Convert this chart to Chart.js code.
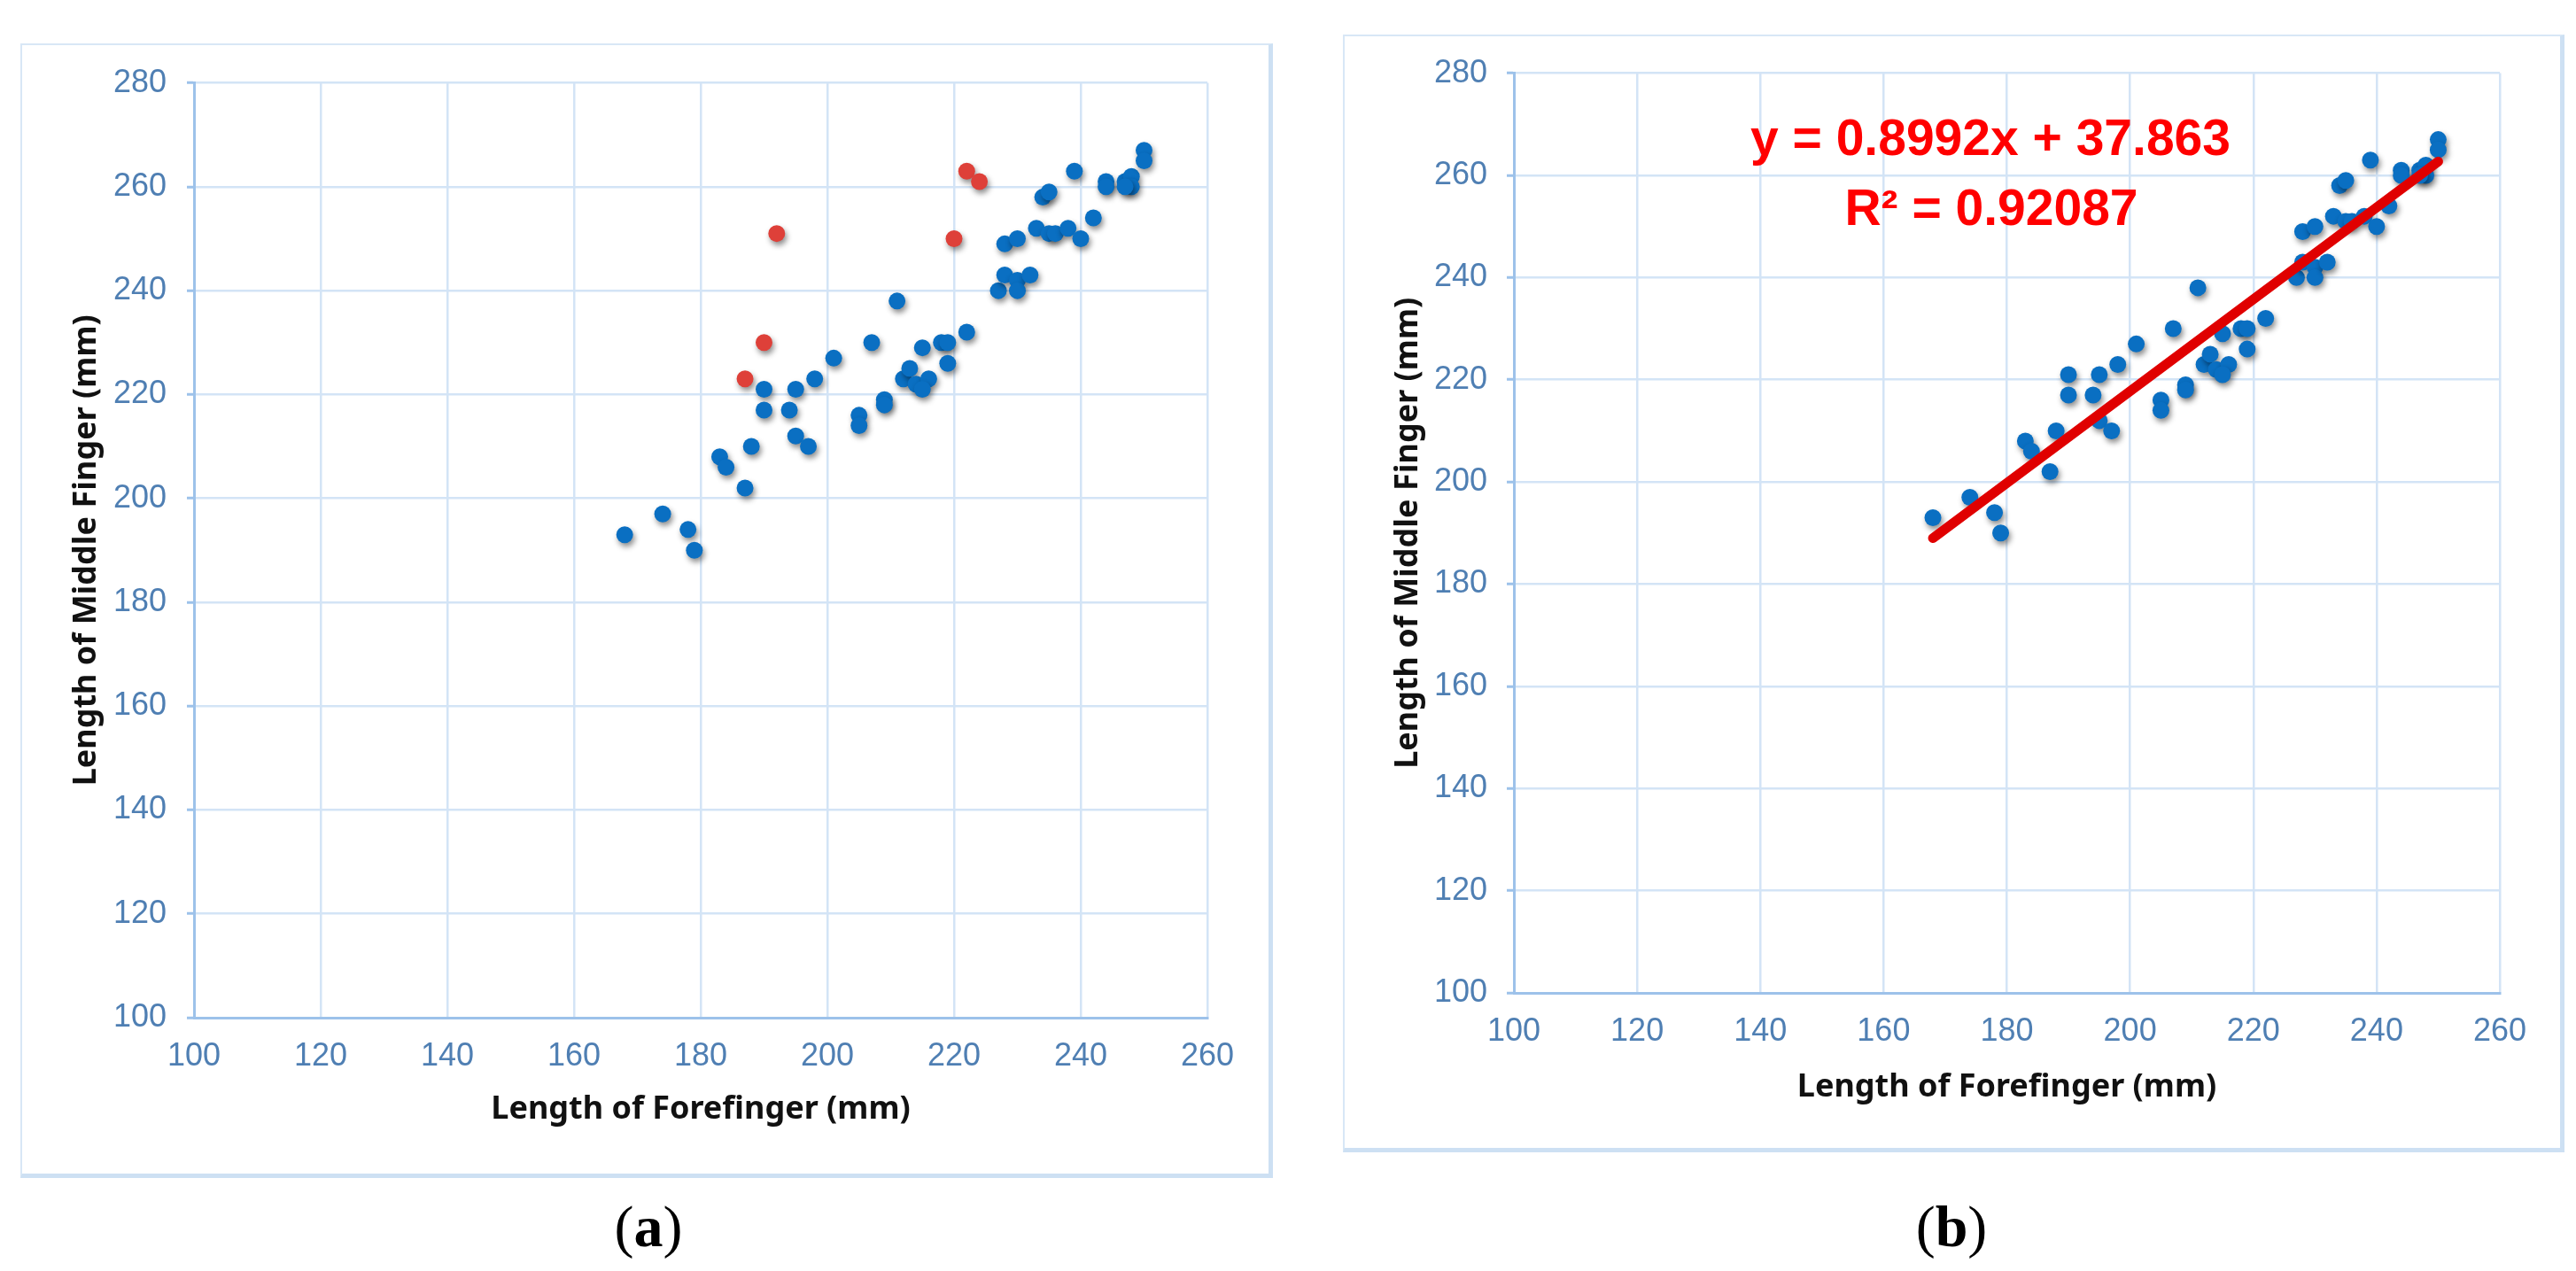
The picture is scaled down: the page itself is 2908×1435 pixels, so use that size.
<!DOCTYPE html>
<html lang="en">
<head>
<meta charset="utf-8">
<title>Forefinger vs Middle Finger</title>
<script src="https://cdn.jsdelivr.net/npm/chart.js"></script>
<style>
    body { margin: 0; width: 2908px; height: 1435px; background: #fff; position: relative; overflow: hidden; }
    .box {
        position: absolute; box-sizing: border-box;
        border-left: 2px solid #d8e7f6; border-top: 2px solid #d8e7f6;
        border-right: 5px solid #cde0f3; border-bottom: 5px solid #cde0f3;
    }
    canvas { position: absolute; }
    .eq {
        position: absolute; color: #ff0000; white-space: nowrap; line-height: 1;
        font: bold 57px "Liberation Sans", Arial, sans-serif;
        transform: translate(-50%, -50%);
    }
    .cap {
        position: absolute; line-height: 1; white-space: nowrap;
        font: 66px "Liberation Serif", "Times New Roman", serif;
        transform: translate(-50%, -50%);
    }
</style>
</head>
<body>
    <div class="box" style="left:23px;top:49px;width:1414px;height:1281px"></div>
    <canvas id="chartA" width="1414" height="1281" style="left:23px;top:49px"></canvas>

    <div class="box" style="left:1516px;top:39px;width:1379px;height:1262px"></div>
    <canvas id="chartB" width="1379" height="1262" style="left:1516px;top:39px"></canvas>

    <div class="eq" style="left:2247px;top:155px">y = 0.8992x + 37.863</div>
    <div class="eq" style="left:2248px;top:234px">R² = 0.92087</div>

    <div class="cap" style="left:732px;top:1385px">(<b>a</b>)</div>
    <div class="cap" style="left:2203px;top:1385px">(<b>b</b>)</div>

<script>
// blue points (kept in both panels)
const forefinger = [168, 174, 178, 179, 183, 184, 187, 188, 190, 190, 195, 194, 195, 197, 198, 201,
    205, 205, 207, 209, 209, 211, 212, 213, 214, 215, 216, 215, 218, 219, 219, 222,
    227, 228, 230, 230, 232, 228, 230, 233, 235, 236, 238, 240, 242, 234, 235, 239,
    244, 244, 247, 248, 248, 247, 250, 250];
const middle = [193, 197, 194, 190, 208, 206, 202, 210, 221, 217, 221, 217, 212, 210, 223, 227,
    216, 214, 230, 219, 218, 238, 223, 225, 222, 229, 223, 221, 230, 230, 226, 232,
    240, 243, 242, 240, 243, 249, 250, 252, 251, 251, 252, 250, 254, 258, 259, 263,
    261, 260, 261, 262, 260, 260, 267, 265];

// red points (outliers, panel a only)
const outlierForefinger = [187, 190, 192, 220, 222, 224];
const outlierMiddle = [223, 230, 251, 250, 263, 261];

// fitted line end points
const trendX = [168, 250];
const trendY = [189, 262.7];

const xTicks = [100, 120, 140, 160, 180, 200, 220, 240, 260];
const yTicks = [100, 120, 140, 160, 180, 200, 220, 240, 260, 280];

const toPoints = (xs, ys) => xs.map((x, i) => ({ x: x, y: ys[i] }));

const tickBlue = '#4f7fb3';
const gridBlue = '#d3e4f6';
const axisBlue = '#9dc2ea';

// soft drop shadow under the markers
const dropShadow = {
    id: 'dropShadow',
    beforeDatasetDraw(chart, args) {
        if (!chart.data.datasets[args.index].shadow) return;
        const ctx = chart.ctx;
        ctx.save();
        ctx.shadowColor = 'rgba(0,0,0,0.45)';
        ctx.shadowBlur = 6;
        ctx.shadowOffsetX = 2;
        ctx.shadowOffsetY = 4;
    },
    afterDatasetDraw(chart, args) {
        if (!chart.data.datasets[args.index].shadow) return;
        chart.ctx.restore();
    }
};

function makeChart(id, datasets, g) {
    const ctx = document.getElementById(id).getContext('2d');
    return new Chart(ctx, {
        type: 'scatter',
        data: { datasets: datasets },
        plugins: [dropShadow],
        options: {
            responsive: false,
            animation: false,
            devicePixelRatio: 1,
            layout: { padding: { top: g.padTop, right: g.padRight, bottom: 0, left: 0 } },
            plugins: { legend: { display: false }, tooltip: { enabled: false } },
            scales: {
                x: {
                    type: 'linear', min: 100, max: 260,
                    afterBuildTicks: s => { s.ticks = xTicks.map(v => ({ value: v })); },
                    afterFit: s => { s.height = g.xHeight; },
                    grid: { color: gridBlue, lineWidth: 2.5, drawTicks: false },
                    border: { color: axisBlue, width: 3 },
                    ticks: { color: tickBlue, padding: g.xTickPad,
                        font: { family: '"Liberation Sans", Arial, sans-serif', size: 36, lineHeight: 1.2 } },
                    title: { display: true, text: 'Length of Forefinger (mm)', color: '#111',
                        padding: { top: 0, bottom: g.xTitlePad },
                        font: { family: '"Noto Sans", sans-serif', size: 36, weight: 'bold', lineHeight: 1.2 } }
                },
                y: {
                    type: 'linear', min: 100, max: 280,
                    afterBuildTicks: s => { s.ticks = yTicks.map(v => ({ value: v })); },
                    afterFit: s => { s.width = g.yWidth; },
                    grid: { color: gridBlue, lineWidth: 2.5, tickLength: 8, tickColor: axisBlue, tickWidth: 3 },
                    border: { color: axisBlue, width: 3 },
                    ticks: { color: tickBlue, padding: g.yTickPad,
                        font: { family: '"Liberation Sans", Arial, sans-serif', size: 36, lineHeight: 1.2 } },
                    title: { display: true, text: 'Length of Middle Finger (mm)', color: '#111',
                        padding: { top: g.yTitlePad, bottom: 0 },
                        font: { family: '"Noto Sans", sans-serif', size: 36, weight: 'bold', lineHeight: 1.2 } }
                }
            }
        }
    });
}

const blueMarks = {
    pointRadius: 9.5, pointHoverRadius: 9.5, borderWidth: 0,
    backgroundColor: '#0a6fc2', borderColor: '#0a6fc2', shadow: true, order: 1
};

// (a) raw data with outliers in red
makeChart('chartA', [
    Object.assign({ label: 'Kept', data: toPoints(forefinger, middle) }, blueMarks),
    { label: 'Outliers', data: toPoints(outlierForefinger, outlierMiddle),
      pointRadius: 9.5, pointHoverRadius: 9.5, borderWidth: 0,
      backgroundColor: '#de4039', borderColor: '#de4039', shadow: true, order: 1 }
], { yWidth: 196, xHeight: 181, padTop: 41, padRight: 74,
     yTickPad: 23, xTickPad: 22.4, yTitlePad: 53.4, xTitlePad: 55.4 });

// (b) cleaned data with the fitted line
makeChart('chartB', [
    { label: 'Fit', data: toPoints(trendX, trendY), showLine: true, pointRadius: 0,
      borderColor: '#e00000', borderWidth: 11, borderCapStyle: 'round', order: 0 },
    Object.assign({ label: 'Kept', data: toPoints(forefinger, middle) }, blueMarks)
], { yWidth: 193, xHeight: 180, padTop: 43, padRight: 73,
     yTickPad: 22, xTickPad: 22.4, yTitlePad: 52.4, xTitlePad: 51.4 });
</script>
</body>
</html>
